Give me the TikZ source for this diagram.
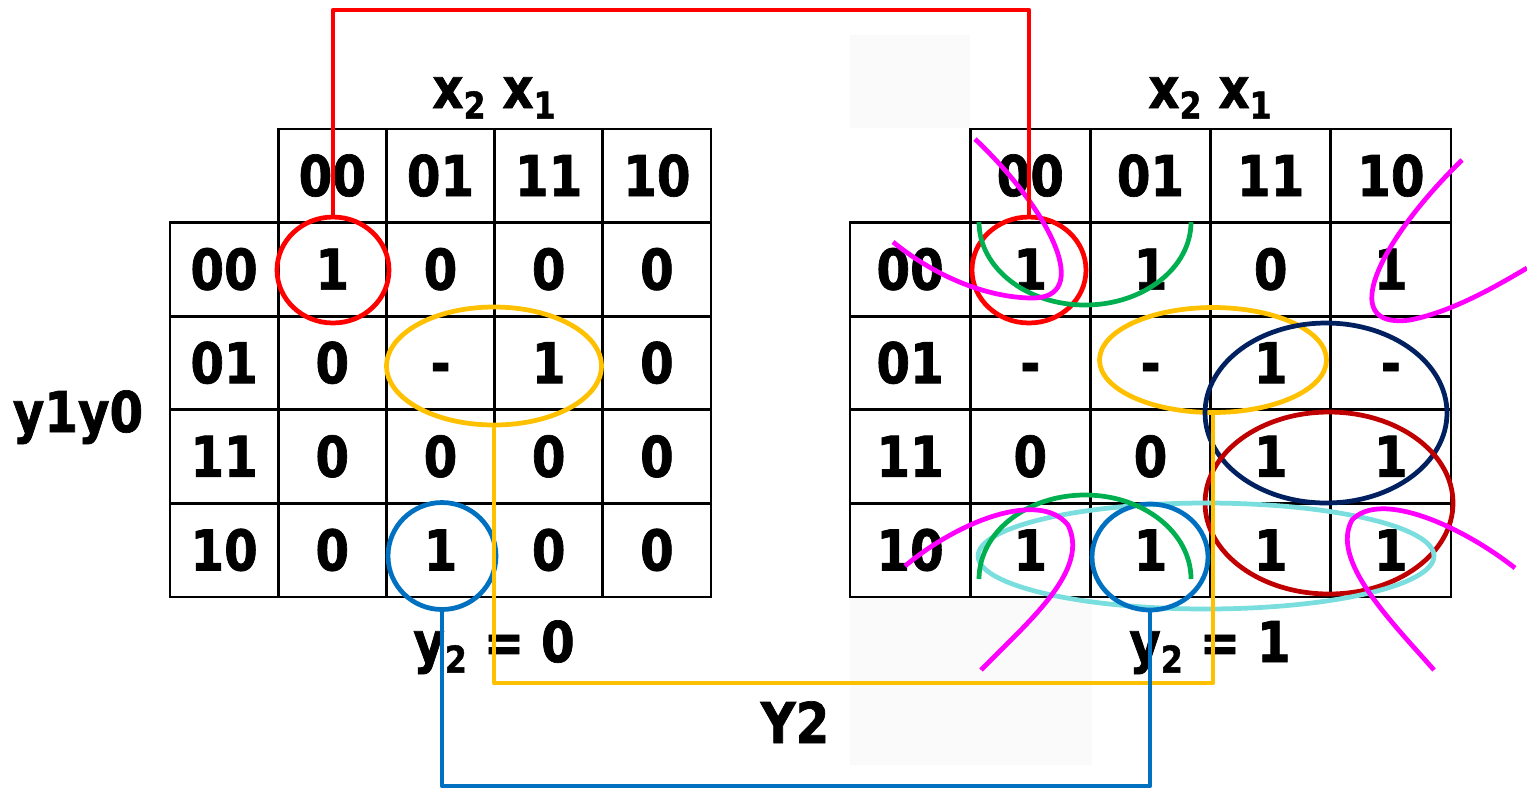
\documentclass[tikz,border=0pt]{standalone}
\usepackage{fontspec}
\setmainfont[FakeStretch=0.86, BoldFeatures={FakeBold=1.2}]{DejaVu Sans}
\usetikzlibrary{shapes.geometric}
\definecolor{kred}{RGB}{255,0,0}
\definecolor{kylw}{RGB}{255,192,0}
\definecolor{kblu}{RGB}{0,112,192}
\definecolor{kgrn}{RGB}{0,176,80}
\definecolor{kmag}{RGB}{255,0,255}
\definecolor{kcyn}{RGB}{122,222,222}
\definecolor{knavy}{RGB}{0,32,96}
\definecolor{kdred}{RGB}{192,0,0}
\newcommand{\lowidx}[1]{\raisebox{-6pt}{\fontsize{21}{21}\selectfont #1}}
\tikzset{
  kcell/.style={draw, line width=1.6pt, minimum height=1.872cm, inner sep=0pt,
    text height=23pt, text depth=0pt, font=\fontsize{32}{36}\selectfont\bfseries},
  kgroup/.style={ellipse, draw, line width=2.7pt, inner sep=0pt},
  klabel/.style={font=\fontsize{32}{36}\selectfont\bfseries, inner sep=0pt},
  kwire/.style={line width=2.7pt, line join=round}
}
\begin{document}
\begin{tikzpicture}[x=0.02cm, y=-0.02cm]
  \useasboundingbox (0,0) rectangle (1527,789);
  % faint slide background
  \fill[black!2] (850,35) rectangle (970,128);
  \fill[black!2] (850,598) rectangle (1092,765);

  % left map, y2 = 0
  \foreach \lab [count=\c] in {00,01,11,10}
    \node[kcell, minimum width=2.164cm] (L-0-\c) at ({224.1+108.2*\c},175.8) {\lab};
  \foreach \r/\rl/\a/\b/\cc/\d in {1/00/1/0/0/0, 2/01/0/-/1/0, 3/11/0/0/0/0, 4/10/0/1/0/0} {
    \node[kcell, minimum width=2.164cm] (L-\r-0) at (224.1,{175.8+93.6*\r}) {\rl};
    \node[kcell, minimum width=2.164cm] (L-\r-1) at (332.3,{175.8+93.6*\r}) {\a};
    \node[kcell, minimum width=2.164cm] (L-\r-2) at (440.5,{175.8+93.6*\r}) {\b};
    \node[kcell, minimum width=2.164cm] (L-\r-3) at (548.7,{175.8+93.6*\r}) {\cc};
    \node[kcell, minimum width=2.164cm] (L-\r-4) at (656.9,{175.8+93.6*\r}) {\d};
  }

  % right map, y2 = 1
  \foreach \lab [count=\c] in {00,01,11,10}
    \node[kcell, minimum width=2.404cm] (R-0-\c) at ({910.1+120.2*\c},175.8) {\lab};
  \foreach \r/\rl/\a/\b/\cc/\d in {1/00/1/1/0/1, 2/01/-/-/1/-, 3/11/0/0/1/1, 4/10/1/1/1/1} {
    \node[kcell, minimum width=2.404cm] (R-\r-0) at (910.1,{175.8+93.6*\r}) {\rl};
    \node[kcell, minimum width=2.404cm] (R-\r-1) at (1030.3,{175.8+93.6*\r}) {\a};
    \node[kcell, minimum width=2.404cm] (R-\r-2) at (1150.5,{175.8+93.6*\r}) {\b};
    \node[kcell, minimum width=2.404cm] (R-\r-3) at (1270.7,{175.8+93.6*\r}) {\cc};
    \node[kcell, minimum width=2.404cm] (R-\r-4) at (1390.9,{175.8+93.6*\r}) {\d};
  }

  % labels
  \node[klabel, anchor=base] (lxx) at (494,108) {x\lowidx{2} x\lowidx{1}};
  \node[klabel, anchor=base] (rxx) at (1210,108) {x\lowidx{2} x\lowidx{1}};
  \node[klabel, anchor=base] (yy) at (78,432) {y1y0};
  \node[klabel, anchor=base] (lcap) at (494,662) {y\lowidx{2} = 0};
  \node[klabel, anchor=base] (rcap) at (1210,662) {y\lowidx{2} = 1};
  \node[klabel, anchor=base] (out) at (795,743) {Y2};

  % groups
  \node[kgroup, kred, minimum width=2.24cm, minimum height=2.12cm] (lred) at (333,270) {};
  \node[kgroup, kylw, minimum width=4.3cm, minimum height=2.36cm] (lylw) at (494,366) {};
  \node[kgroup, kblu, minimum width=2.16cm, minimum height=2.14cm] (lblu) at (442,556) {};
  \node[kgroup, kred, minimum width=2.28cm, minimum height=2.12cm] (rred) at (1029,270) {};
  \node[kgroup, kylw, minimum width=4.54cm, minimum height=2.1cm] (rylw) at (1213,360) {};
  \node[kgroup, knavy, minimum width=4.84cm, minimum height=3.6cm] (rnvy) at (1326,413) {};
  \node[kgroup, kdred, minimum width=4.96cm, minimum height=3.64cm] (rdrd) at (1329,503) {};
  \node[kgroup, kcyn, minimum width=9.12cm, minimum height=2.12cm] (rcyn) at (1206,556) {};
  \node[kgroup, kblu, minimum width=2.32cm, minimum height=2.12cm] (rblu) at (1150,557) {};
  \draw[kgrn, line width=2.7pt] (979,222) arc[start angle=180, end angle=0, x radius=106, y radius=83];
  \draw[kgrn, line width=2.7pt] (979,579) arc[start angle=180, end angle=360, x radius=106, y radius=84];

  % wrap-around corners
  \draw[kmag, line width=2.7pt] (975,139) .. controls (1050,210) and (1095,300) .. (1030,298)
    .. controls (990,297) and (940,280) .. (893,242);
  \draw[kmag, line width=2.7pt] (1462,160) .. controls (1380,240) and (1335,330) .. (1410,320)
    .. controls (1450,312) and (1490,290) .. (1527,268);
  \draw[kmag, line width=2.7pt] (905,566) .. controls (960,520) and (1040,490) .. (1068,525)
    .. controls (1090,570) and (1030,620) .. (981,670);
  \draw[kmag, line width=2.7pt] (1515,568) .. controls (1460,525) and (1380,490) .. (1352,520)
    .. controls (1330,560) and (1390,620) .. (1434,670);

  % wires to Y2
  \coordinate (redtop) at (0,10);
  \coordinate (ylwbot) at (0,683);
  \coordinate (blubot) at (0,786);
  \draw[kwire, kred] (lred.north) -- (lred.north |- redtop) -| (rred.north);
  \draw[kwire, kylw] (lylw.south) -- (lylw.south |- ylwbot) -| (rylw.south);
  \draw[kwire, kblu] (lblu.south) -- (lblu.south |- blubot) -| (rblu.south);
\end{tikzpicture}
\end{document}
